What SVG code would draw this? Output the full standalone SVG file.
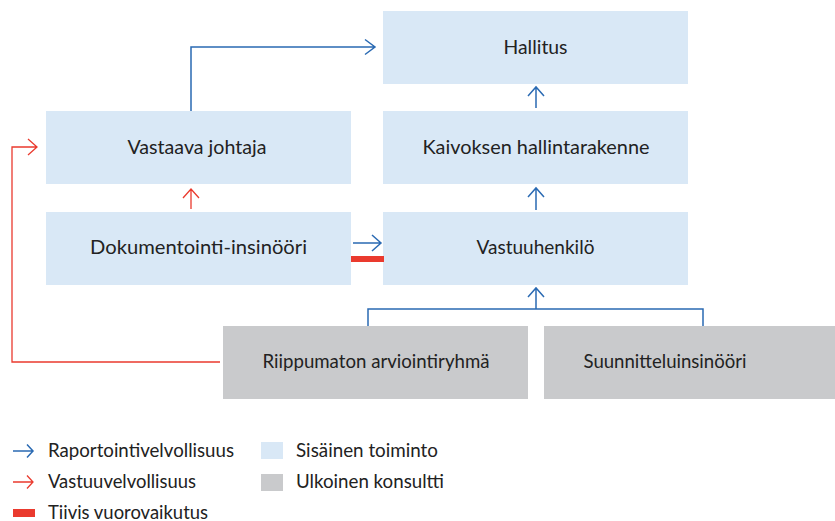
<svg xmlns="http://www.w3.org/2000/svg" width="835" height="521" viewBox="0 0 835 521">
<defs>
<style>
.int{fill:#d9e8f6}
.ext{fill:#c9cacc}
.t{font-family:Lato,"Noto Sans",sans-serif;font-size:19px;fill:#222;text-anchor:middle}
.lt{font-family:Lato,"Noto Sans",sans-serif;font-size:18.5px;fill:#222}
.b{stroke:#2a6ab3;stroke-width:1.5;fill:none}
.r{stroke:#ea3a2e;stroke-width:1.3;fill:none}
</style>
</defs>
<rect width="835" height="521" fill="#fff"/>
<g id="hallitus"><rect class="int" x="383" y="11" width="305" height="73"/><text class="t" x="535.5" y="54" textLength="64" lengthAdjust="spacingAndGlyphs">Hallitus</text></g>
<g id="vastaava-johtaja"><rect class="int" x="46" y="111" width="305" height="73"/><text class="t" x="197" y="154" textLength="139" lengthAdjust="spacingAndGlyphs">Vastaava johtaja</text></g>
<g id="kaivoksen-hallintarakenne"><rect class="int" x="383" y="111" width="305" height="73"/><text class="t" x="536" y="154" textLength="227" lengthAdjust="spacingAndGlyphs">Kaivoksen hallintarakenne</text></g>
<g id="dokumentointi-insinoori"><rect class="int" x="46" y="212" width="305" height="73"/><text class="t" x="198.5" y="254" textLength="217" lengthAdjust="spacingAndGlyphs">Dokumentointi-insinööri</text></g>
<g id="vastuuhenkilo"><rect class="int" x="383" y="212" width="305" height="73"/><text class="t" x="535.5" y="254">Vastuuhenkilö</text></g>
<g id="riippumaton-arviointiryhma"><rect class="ext" x="223" y="326" width="305" height="73"/><text class="t" x="376" y="368" textLength="227" lengthAdjust="spacingAndGlyphs">Riippumaton arviointiryhmä</text></g>
<g id="suunnitteluinsinoori"><rect class="ext" x="544" y="326" width="291" height="73"/><text class="t" x="665" y="368" textLength="163" lengthAdjust="spacingAndGlyphs">Suunnitteluinsinööri</text></g>
<g id="connectors">
<path class="b" d="M191 111V47H375M365 39.5L375 47L365 54.5"/>
<path class="b" d="M536 108V87M528 96L536 87L544 96"/>
<path class="b" d="M536 210V188M528 197L536 188L544 197"/>
<path class="b" d="M368 326V309H703V326M536 309V288M528 297L536 288L544 297"/>
<path class="b" d="M353 243H381M372 235L381 243L372 251"/>
<path class="r" d="M191 209V189M183 198L191 189L199 198"/>
<path class="r" d="M220 362H12V147H37M28 139L37 147L28 155"/>
<rect x="351" y="256" width="33" height="6" fill="#ea3a2e"/>
</g>
<g id="legend">
<path class="b" d="M13 451H33M27 444.5L33 451L27 457.5"/>
<text class="lt" x="48" y="457" textLength="186" lengthAdjust="spacingAndGlyphs">Raportointivelvollisuus</text>
<path class="r" d="M13 482H33M27 475.5L33 482L27 488.5"/>
<text class="lt" x="48" y="488" textLength="148" lengthAdjust="spacingAndGlyphs">Vastuuvelvollisuus</text>
<rect x="13" y="509" width="22" height="8" fill="#ea3a2e"/>
<text class="lt" x="48" y="519" textLength="160" lengthAdjust="spacingAndGlyphs">Tiivis vuorovaikutus</text>
<rect class="int" x="261" y="442" width="22" height="17"/>
<text class="lt" x="296" y="457" textLength="142" lengthAdjust="spacingAndGlyphs">Sisäinen toiminto</text>
<rect class="ext" x="261" y="474" width="22" height="17"/>
<text class="lt" x="296" y="488" textLength="148" lengthAdjust="spacingAndGlyphs">Ulkoinen konsultti</text>
</g>
</svg>
